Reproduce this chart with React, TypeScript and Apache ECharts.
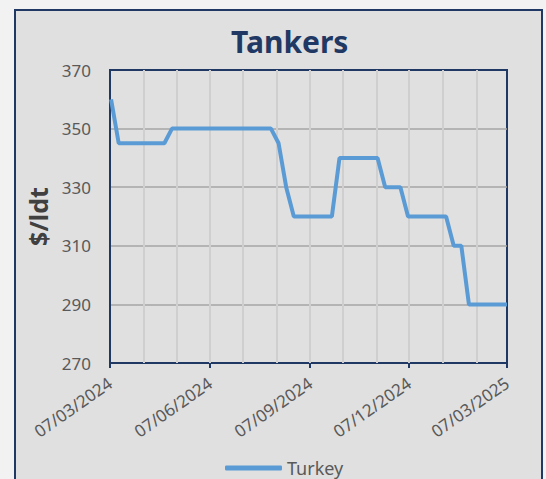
import React, { useEffect, useRef } from "react";
import * as echarts from "echarts";

const pointDates = [
  "2024-03-08", "2024-03-15", "2024-04-26", "2024-05-03", "2024-08-02",
  "2024-08-09", "2024-08-16", "2024-08-23", "2024-09-27", "2024-10-04",
  "2024-11-08", "2024-11-15", "2024-11-29", "2024-12-06", "2025-01-10",
  "2025-01-17", "2025-01-24", "2025-01-31", "2025-03-07",
];
const turkeyValues = [
  360, 345, 345, 350, 350,
  345, 330, 320, 320, 340,
  340, 330, 330, 320, 320,
  310, 310, 290, 290,
];
const xTickDates = ["2024-03-07", "2024-06-07", "2024-09-07", "2024-12-07", "2025-03-07"];
const monthGridDates = [
  "2024-04-07", "2024-05-07", "2024-06-07", "2024-07-07", "2024-08-07", "2024-09-07",
  "2024-10-07", "2024-11-07", "2024-12-07", "2025-01-07", "2025-02-07",
];
const yMin = 270;
const yMax = 370;
const yStep = 20;

const ts = (d: string) => {
  const [y, m, dd] = d.split("-").map(Number);
  return Date.UTC(y, m - 1, dd);
};
const pad = (n: number) => (n < 10 ? "0" + n : "" + n);
const fmt = (v: number) => {
  const d = new Date(v);
  return pad(d.getUTCDate()) + "/" + pad(d.getUTCMonth() + 1) + "/" + d.getUTCFullYear();
};

const FONT = "'Noto Sans', 'Open Sans', sans-serif";
const NAVY = "#1f3864";

export default function App() {
  const ref = useRef<HTMLDivElement>(null);
  useEffect(() => {
    if (!ref.current) return;
    const chart = echarts.init(ref.current, null, { renderer: "svg" });
    const data = pointDates.map((d, i) => [ts(d), turkeyValues[i]]);
    chart.setOption({
      animation: false,
      backgroundColor: "#f2f2f2",
      textStyle: { fontFamily: FONT },
      graphic: [
        {
          type: "rect",
          z: -10,
          shape: { x: 15, y: 10, width: 527, height: 490 },
          style: { fill: "#e0e0e0", stroke: NAVY, lineWidth: 2 },
        },
      ],
      title: {
        text: "Tankers",
        left: 226,
        top: 21,
        textStyle: { fontFamily: FONT, fontSize: 30, fontWeight: "bold", color: NAVY },
      },
      legend: {
        left: 220,
        top: 454,
        icon: "roundRect",
        itemWidth: 57,
        itemHeight: 5,
        itemGap: 4,
        textStyle: { fontFamily: FONT, fontSize: 18, color: "#595959" },
        data: ["Turkey"],
      },
      grid: {
        left: 110,
        top: 70,
        width: 397,
        height: 293,
        show: true,
        borderColor: NAVY,
        borderWidth: 2,
        backgroundColor: "transparent",
      },
      xAxis: {
        type: "value",
        min: ts(xTickDates[0]),
        max: ts(xTickDates[xTickDates.length - 1]),
        axisLine: { show: true, lineStyle: { color: NAVY, width: 2 } },
        axisTick: {
          show: true,
          customValues: xTickDates.map(ts),
          length: 5,
          lineStyle: { color: NAVY, width: 2 },
        },
        axisLabel: {
          customValues: xTickDates.map(ts),
          formatter: (v: number) => fmt(v),
          rotate: 35,
          fontSize: 17,
          color: "#595959",
          fontFamily: FONT,
          margin: 18,
        },
        splitLine: { show: false },
      },
      yAxis: {
        type: "value",
        min: yMin,
        max: yMax,
        interval: yStep,
        name: "$/ldt",
        nameLocation: "middle",
        nameRotate: 90,
        nameGap: 57,
        nameTextStyle: { fontFamily: FONT, fontSize: 25, fontWeight: "bold", color: "#404040" },
        axisLine: { show: true, lineStyle: { color: NAVY, width: 2 } },
        axisTick: { show: false },
        axisLabel: { fontSize: 17, color: "#595959", fontFamily: FONT, margin: 19 },
        splitLine: {
          show: true,
          showMinLine: false,
          showMaxLine: false,
          lineStyle: { color: "#a6a6a6", width: 1.5 },
        },
      },
      series: [
        {
          name: "grid-months",
          type: "line",
          data: [],
          z: 1,
          silent: true,
          markLine: {
            silent: true,
            symbol: "none",
            label: { show: false },
            lineStyle: { color: "#cfcfcf", width: 2, type: "solid" },
            data: monthGridDates.map((d) => ({ xAxis: ts(d) })),
          },
        },
        {
          name: "Turkey",
          type: "line",
          data,
          z: 5,
          symbol: "none",
          lineStyle: { color: "#5b9bd5", width: 4 },
          itemStyle: { color: "#5b9bd5" },
        },
      ],
    });
    return () => chart.dispose();
  }, []);
  return (
    <div style={{ position: "fixed", left: 0, top: 0, width: 546, height: 479 }}>
      <div ref={ref} style={{ width: 546, height: 479 }} />
    </div>
  );
}
